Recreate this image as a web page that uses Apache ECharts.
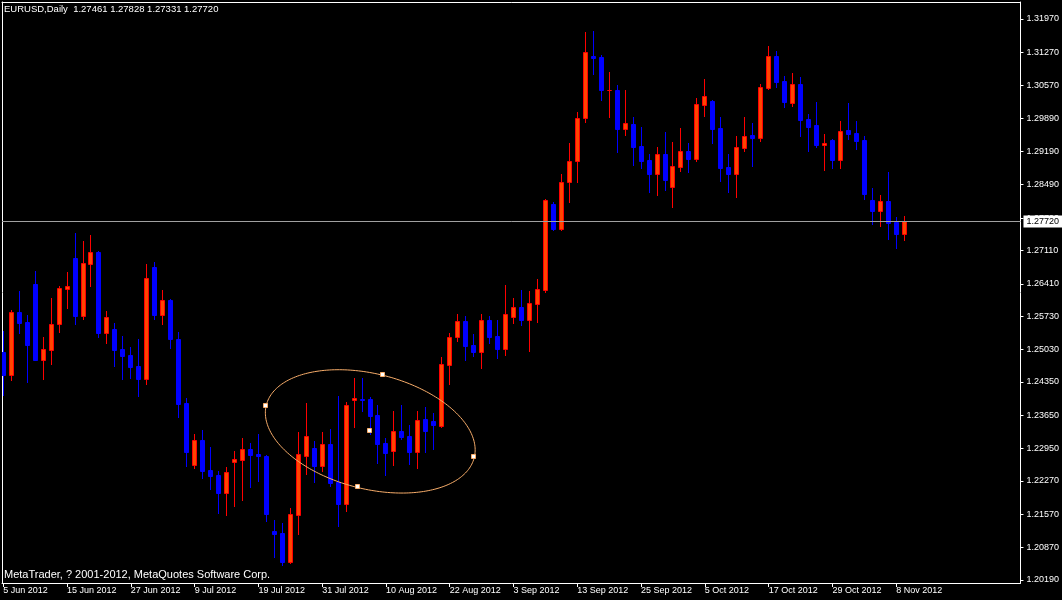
<!DOCTYPE html>
<html><head><meta charset="utf-8">
<script src="https://cdn.jsdelivr.net/npm/echarts@6/dist/echarts.min.js"></script>
<style>html,body{margin:0;padding:0;background:#000}#c{width:1062px;height:600px}</style>
</head><body><div id="c"></div>
<script>
const symbolName = 'EURUSD';
const periodName = 'Daily';
const footerText = 'MetaTrader, ? 2001-2012, MetaQuotes Software Corp.';

// date labels, one every 8 trading days starting at the first bar
const dateTicks = ['5 Jun 2012','15 Jun 2012','27 Jun 2012','9 Jul 2012','19 Jul 2012','31 Jul 2012','10 Aug 2012','22 Aug 2012','3 Sep 2012','13 Sep 2012','25 Sep 2012','5 Oct 2012','17 Oct 2012','29 Oct 2012','8 Nov 2012'];
const barsPerDateTick = 8;

const priceTicks = [1.31970,1.31270,1.30570,1.29890,1.29190,1.28490,1.27790,1.27110,1.26410,1.25730,1.25030,1.24350,1.23650,1.22950,1.22270,1.21570,1.20870,1.20190];

const open = [
1.24977,1.24500,1.25811,1.25600,1.26405,1.24815,1.25025,1.25559,1.26306,1.26951,
1.25739,1.26831,1.27077,1.25382,1.25460,1.25040,1.24908,1.24683,1.24410,1.26762,
1.25760,1.26069,1.25244,1.23900,1.22610,1.23129,1.22499,1.22394,1.22022,1.22673,
1.22715,1.22934,1.22835,1.22793,1.21212,1.21176,1.20573,1.21560,1.22799,1.22961,
1.22589,1.23045,1.22247,1.21791,1.23969,1.23990,1.23984,1.23648,1.23066,1.22892,
1.23312,1.23213,1.22883,1.23570,1.23528,1.23429,1.24710,1.25286,1.25622,1.25124,
1.24983,1.25649,1.25313,1.25040,1.25706,1.25922,1.25655,1.25991,1.26285,1.28085,
1.27560,1.28541,1.28982,1.29885,1.31187,1.31172,1.30469,1.30473,1.29666,1.29765,
1.29297,1.29009,1.28715,1.29135,1.28432,1.28868,1.29198,1.29036,1.30170,1.30248,
1.29681,1.28862,1.28721,1.29267,1.29534,1.29477,1.30527,1.31193,1.30662,1.30200,
1.30605,1.29864,1.29738,1.29324,1.29429,1.29015,1.29645,1.29576,1.29429,1.28169,
1.27938,1.28148,1.27707,1.27461];
const high = [
1.25418,1.25859,1.26264,1.25754,1.26678,1.25292,1.26111,1.26363,1.26663,1.27476,
1.27308,1.27434,1.27090,1.25838,1.25592,1.25313,1.25076,1.25244,1.26825,1.26867,
1.26279,1.26080,1.25397,1.24011,1.23255,1.23339,1.22982,1.22472,1.22562,1.22898,
1.23171,1.23066,1.23249,1.22820,1.21449,1.21380,1.21701,1.23297,1.23906,1.23114,
1.23297,1.23360,1.24053,1.23933,1.24431,1.24431,1.24026,1.23864,1.23177,1.23738,
1.23864,1.23444,1.23738,1.23816,1.23696,1.24866,1.25370,1.25775,1.25733,1.25355,
1.25775,1.25733,1.25649,1.26384,1.26111,1.26279,1.26258,1.26510,1.28180,1.28127,
1.28715,1.29366,1.30017,1.31703,1.31724,1.31214,1.30857,1.30584,1.30479,1.29912,
1.29702,1.29135,1.29282,1.29597,1.29387,1.29681,1.29366,1.30311,1.30710,1.30260,
1.29912,1.29135,1.29513,1.29912,1.29786,1.30605,1.31403,1.31298,1.30773,1.30836,
1.30746,1.29975,1.30227,1.29555,1.29440,1.29828,1.30206,1.29828,1.29513,1.28421,
1.28274,1.28757,1.27812,1.27828];
const low = [
1.24074,1.24389,1.25382,1.24353,1.24803,1.24416,1.24731,1.25403,1.25907,1.25559,
1.25676,1.26363,1.25298,1.25172,1.24689,1.24416,1.24437,1.24059,1.24305,1.25664,
1.25565,1.25061,1.23612,1.22583,1.22547,1.22337,1.22100,1.21596,1.21554,1.21749,
1.21875,1.22142,1.22274,1.21434,1.20666,1.20504,1.20540,1.21161,1.22421,1.22241,
1.22484,1.22169,1.21329,1.21638,1.23408,1.23744,1.23255,1.22640,1.22394,1.22604,
1.23150,1.22625,1.22541,1.22883,1.22940,1.23396,1.24305,1.25214,1.24809,1.24893,
1.24641,1.25166,1.24857,1.24914,1.25586,1.25544,1.24998,1.25607,1.26237,1.27539,
1.27539,1.28127,1.28553,1.29801,1.30815,1.30275,1.29918,1.29183,1.29540,1.28910,
1.28847,1.28343,1.28280,1.28385,1.28028,1.28784,1.28763,1.28994,1.29939,1.29372,
1.28574,1.28343,1.28238,1.29204,1.28889,1.29414,1.30506,1.30548,1.30122,1.30149,
1.29519,1.29198,1.29276,1.28805,1.28847,1.28847,1.29450,1.29240,1.28190,1.27671,
1.27629,1.27350,1.27161,1.27331];
const close = [
1.24500,1.25811,1.25592,1.25130,1.24815,1.25040,1.25565,1.26321,1.26363,1.25739,
1.26846,1.27077,1.25382,1.25712,1.25019,1.24893,1.24662,1.24410,1.26531,1.25754,
1.26069,1.25250,1.23891,1.22883,1.23129,1.22478,1.22379,1.22022,1.22457,1.22724,
1.22934,1.22814,1.22799,1.21581,1.21161,1.20573,1.21575,1.22835,1.23213,1.22589,
1.23045,1.22232,1.21791,1.23864,1.24005,1.23969,1.23639,1.23051,1.22856,1.23312,
1.23192,1.22883,1.23549,1.23318,1.23444,1.24725,1.25286,1.25622,1.25109,1.24983,
1.25649,1.25298,1.25040,1.25775,1.25922,1.25655,1.26006,1.26300,1.28169,1.27560,
1.28541,1.28988,1.29885,1.31271,1.31157,1.30473,1.30477,1.29666,1.29780,1.29288,
1.28994,1.28715,1.29135,1.28595,1.28883,1.29198,1.29030,1.30185,1.30353,1.29660,
1.28847,1.28721,1.29282,1.29513,1.29477,1.30542,1.31193,1.30653,1.30233,1.30605,
1.29855,1.29708,1.29324,1.29366,1.29015,1.29618,1.29561,1.29408,1.28295,1.27938,
1.28148,1.27686,1.27455,1.27720];

// ellipse object anchors: [bar index, price]
const ellipseCenter = [46.03, 1.23310];
const ellipseAxisA  = [59.09, 1.22772];
const ellipseAxisB  = [47.63, 1.24488];

const FONT = 'Liberation Sans';
const last = open.length - 1;
const bidPrice = close[last];
const headerText = symbolName + ',' + periodName + '  ' + [open[last], high[last], low[last], close[last]].map(v => v.toFixed(5)).join(' ');

const candleData = open.map((o, i) => [i, o, close[i], low[i], high[i]]);
const dateTickIdx = dateTicks.map((_, k) => k * barsPerDateTick);

function renderCandle(params, api) {
  const i = api.value(0), o = api.value(1), c = api.value(2), l = api.value(3), h = api.value(4);
  const pO = api.coord([i, o]), pC = api.coord([i, c]), pH = api.coord([i, h]), pL = api.coord([i, l]);
  const fx = Math.floor(pO[0]);
  const bull = c >= o;
  const top = Math.round(Math.min(pO[1], pC[1])), bot = Math.round(Math.max(pO[1], pC[1]));
  return {
    type: 'group',
    children: [
      { type: 'line', shape: { x1: fx + 0.5, y1: Math.round(pH[1]), x2: fx + 0.5, y2: Math.round(pL[1]) + 1 },
        style: { stroke: bull ? '#FF0000' : '#0000FF', lineWidth: 1 } },
      { type: 'rect', shape: { x: fx - 2 + 0.5, y: top + 0.5, width: 4, height: Math.max(bot - top, 0) },
        style: { fill: bull ? '#FF4500' : '#0000FF', stroke: bull ? '#FF0000' : '#0000FF', lineWidth: 1 } }
    ]
  };
}

function renderEllipse(params, api) {
  const pts = [];
  const ax = [ellipseAxisA[0] - ellipseCenter[0], ellipseAxisA[1] - ellipseCenter[1]];
  const bx = [ellipseAxisB[0] - ellipseCenter[0], ellipseAxisB[1] - ellipseCenter[1]];
  const N = 240;
  for (let k = 0; k <= N; k++) {
    const t = 2 * Math.PI * k / N;
    pts.push(api.coord([ellipseCenter[0] + ax[0] * Math.cos(t) + bx[0] * Math.sin(t),
                        ellipseCenter[1] + ax[1] * Math.cos(t) + bx[1] * Math.sin(t)]));
  }
  const handlesData = [ellipseCenter, ellipseAxisA, ellipseAxisB,
    [2 * ellipseCenter[0] - ellipseAxisA[0], 2 * ellipseCenter[1] - ellipseAxisA[1]],
    [2 * ellipseCenter[0] - ellipseAxisB[0], 2 * ellipseCenter[1] - ellipseAxisB[1]]];
  const children = [{ type: 'polyline', shape: { points: pts }, style: { stroke: '#F8AD6A', lineWidth: 1, fill: null } }];
  handlesData.forEach(p => {
    const c = api.coord(p);
    children.push({ type: 'rect', shape: { x: Math.round(c[0]) - 2.5, y: Math.round(c[1]) - 2.5, width: 4, height: 4 },
      style: { fill: '#FFFFFF', stroke: '#F8AD6A', lineWidth: 1 } });
  });
  return { type: 'group', children };
}

const chart = echarts.init(document.getElementById('c'), null, { renderer: 'canvas' });
const xMin = -0.1625, xMax = 127.5875;
const yMin = 1.20126, yMax = 1.32327;
chart.setOption({
  backgroundColor: '#000000',
  animation: false,
  title: [
    { text: headerText, left: 4, top: 4, padding: 0, textStyle: { color: '#FFFFFF', fontFamily: FONT, fontSize: 9.5, fontWeight: 'normal' } },
    { text: footerText, left: 4, top: 569, padding: 0, textStyle: { color: '#FFFFFF', fontFamily: FONT, fontSize: 11, fontWeight: 'normal' } }
  ],
  grid: { left: 2, top: 2, right: 38, bottom: 17, containLabel: false },
  xAxis: [
    { type: 'value', min: xMin, max: xMax, position: 'bottom',
      axisLine: { show: true, onZero: false, lineStyle: { color: '#FFFFFF', width: 1 } },
      axisTick: { show: true, customValues: dateTickIdx, length: 4, lineStyle: { color: '#FFFFFF' } },
      axisLabel: { show: true, customValues: dateTickIdx, formatter: v => dateTicks[Math.round(v / barsPerDateTick)] || '',
        color: '#FFFFFF', fontFamily: FONT, fontSize: 9, align: 'left', margin: 3 },
      splitLine: { show: false } },
    { type: 'value', min: xMin, max: xMax, position: 'top',
      axisLine: { show: true, onZero: false, lineStyle: { color: '#FFFFFF', width: 1 } },
      axisTick: { show: false }, axisLabel: { show: false }, splitLine: { show: false } }
  ],
  yAxis: [
    { type: 'value', min: yMin, max: yMax, position: 'right',
      axisLine: { show: true, onZero: false, lineStyle: { color: '#FFFFFF', width: 1 } },
      axisTick: { show: true, customValues: priceTicks, length: 3, lineStyle: { color: '#FFFFFF' } },
      axisLabel: { show: true, customValues: priceTicks, formatter: v => v.toFixed(5),
        color: '#FFFFFF', fontFamily: FONT, fontSize: 9, margin: 6 },
      splitLine: { show: false } },
    { type: 'value', min: yMin, max: yMax, position: 'left',
      axisLine: { show: true, onZero: false, lineStyle: { color: '#FFFFFF', width: 1 } },
      axisTick: { show: false }, axisLabel: { show: false }, splitLine: { show: false } }
  ],
  series: [
    { type: 'custom', name: 'EURUSD', xAxisIndex: 0, yAxisIndex: 0, clip: true, silent: true,
      renderItem: renderCandle, data: candleData, encode: { x: 0, y: [1, 2, 3, 4] } },
    { type: 'custom', name: 'ellipse', xAxisIndex: 0, yAxisIndex: 0, clip: true, silent: true,
      renderItem: renderEllipse, data: [[ellipseCenter[0], ellipseCenter[1]]], encode: { x: 0, y: 1 } },
    { type: 'line', name: 'bid', xAxisIndex: 0, yAxisIndex: 0, silent: true, symbol: 'none', data: [],
      markLine: { silent: true, symbol: ['none', 'none'], animation: false, precision: 5,
        lineStyle: { color: '#A0A0A0', width: 1, type: 'solid' },
        label: { show: true, position: 'end', formatter: bidPrice.toFixed(5), backgroundColor: '#FFFFFF', color: '#000000',
          fontFamily: FONT, fontSize: 9, padding: [2, 3, 1, 3], distance: 3 },
        emphasis: { disabled: true },
        data: [{ yAxis: bidPrice }] } }
  ]
});
</script></body></html>
